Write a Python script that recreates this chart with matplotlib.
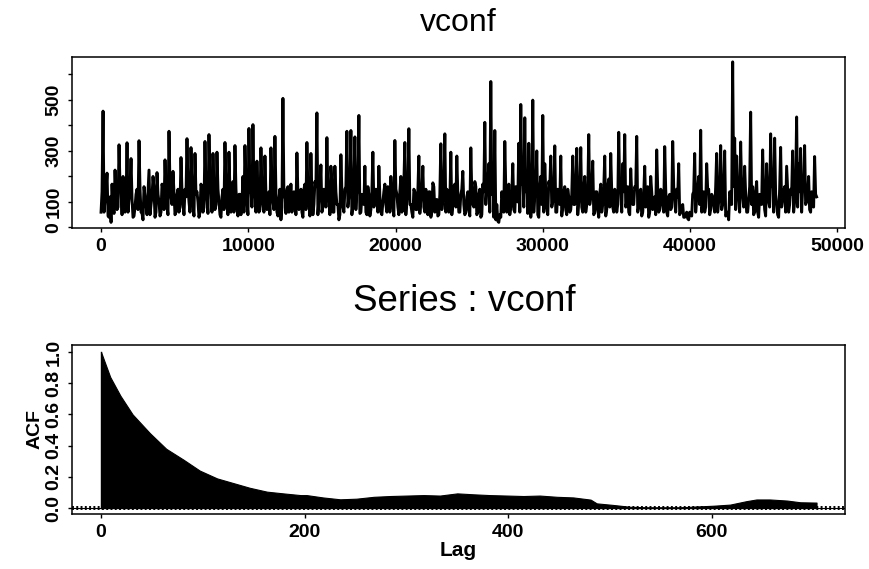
import numpy as np
import matplotlib.pyplot as plt

plt.rcParams['font.family'] = ['Liberation Sans', 'DejaVu Sans']

# vconf trace, one reading every ~136 iterations
vconf = [
    60, 456, 110, 213, 40, 20, 90, 225, 70, 324, 150, 200, 60, 332, 110, 270, 40, 80, 150, 340, 60,
    30, 120, 50, 225, 90, 200, 40, 215, 100, 60, 150, 265, 80, 377, 120, 220, 50, 130, 60, 274,
    90, 150, 348, 100, 313, 80, 290, 140, 40, 170, 60, 337, 110, 364, 150, 290, 70, 295, 100, 40,
    150, 333, 90, 295, 60, 180, 321, 80, 130, 50, 200, 321, 100, 388, 150, 403, 120, 260, 60, 312,
    90, 280, 70, 140, 312, 100, 357, 60, 110, 30, 506, 140, 150, 60, 170, 90, 120, 292, 70, 150,
    40, 170, 333, 90, 290, 50, 180, 449, 110, 245, 80, 120, 352, 100, 240, 60, 240, 90, 30, 285,
    80, 150, 377, 120, 380, 90, 355, 150, 439, 60, 110, 240, 50, 130, 70, 295, 100, 140, 240, 60,
    100, 170, 60, 120, 200, 80, 341, 130, 50, 200, 70, 333, 110, 387, 90, 40, 140, 70, 280, 110,
    240, 60, 100, 140, 40, 175, 60, 110, 50, 328, 110, 367, 150, 60, 295, 90, 170, 280, 60, 130,
    220, 50, 120, 70, 312, 90, 180, 50, 130, 40, 170, 412, 150, 250, 572, 250, 380, 90, 20, 40,
    100, 337, 60, 170, 80, 250, 60, 140, 330, 482, 200, 430, 180, 330, 40, 499, 130, 300, 40, 200,
    439, 250, 80, 180, 280, 100, 320, 60, 130, 280, 80, 160, 50, 120, 70, 280, 90, 310, 100, 313,
    60, 200, 90, 364, 120, 260, 60, 140, 40, 170, 90, 280, 70, 190, 290, 80, 150, 60, 373, 140,
    250, 364, 100, 60, 230, 90, 160, 357, 80, 150, 60, 240, 90, 40, 200, 70, 120, 304, 60, 150,
    90, 317, 60, 120, 70, 337, 110, 150, 250, 60, 90, 40, 60, 30, 50, 130, 290, 110, 200, 381,
    90, 60, 250, 150, 70, 120, 60, 290, 100, 321, 90, 300, 50, 30, 120, 649, 350, 280, 110, 335,
    120, 240, 60, 110, 452, 160, 60, 180, 40, 120, 304, 70, 250, 100, 367, 200, 350, 90, 40, 314,
    110, 160, 240, 60, 150, 300, 100, 433, 250, 310, 150, 321, 100, 200, 60, 90, 278, 120,
]
# readings taken halfway between the ones above
vconf_mid = [
    140, 60, 150, 45, 120, 170, 55, 130, 80, 160, 50, 140, 90, 60, 150, 110, 45, 130, 70, 150,
    55, 160, 90, 140, 50, 120, 150, 60, 130, 45, 170, 70, 140, 50, 160, 90, 130, 60, 150, 80,
    140, 50, 120, 160, 60, 150, 45, 130, 100, 60, 150, 80, 140, 55, 170, 60, 130, 90, 150, 50,
    120, 70, 160, 50, 140, 90, 60, 150, 45, 130, 100, 60, 170, 50, 140, 80, 150, 60, 130, 70,
    150, 60, 130, 90, 50, 160, 70, 140, 45, 150, 80, 120, 55, 160, 90, 60, 140, 50, 130, 100,
    60, 150, 70, 140, 45, 130, 90, 160, 50, 140, 60, 150, 80, 130, 50, 170, 60, 140, 90, 50,
    140, 60, 160, 80, 130, 50, 150, 70, 140, 55, 130, 90, 60, 160, 45, 140, 80, 150, 60, 120,
    50, 140, 90, 160, 60, 130, 45, 150, 80, 140, 60, 170, 50, 130, 90, 60, 150, 70, 140, 55,
    130, 80, 150, 50, 140, 60, 160, 90, 45, 130, 70, 150, 60, 140, 100, 50, 160, 80, 130, 60,
    150, 90, 60, 140, 45, 130, 80, 160, 60, 150, 50, 140, 90, 170, 60, 130, 40, 30, 25, 50,
    140, 60, 150, 90, 50, 130, 70, 160, 100, 60, 170, 80, 140, 55, 150, 90, 60, 130, 50, 150,
    90, 60, 140, 50, 160, 80, 130, 60, 150, 90, 45, 140, 70, 150, 60, 130, 90, 160, 50, 140,
    80, 150, 60, 130, 90, 160, 50, 140, 70, 130, 60, 150, 45, 160, 80, 140, 60, 130, 90, 150,
    60, 140, 80, 160, 50, 130, 90, 150, 60, 140, 45, 130, 80, 160, 60, 140, 90, 50, 150, 70,
    140, 60, 150, 45, 130, 80, 160, 60, 120, 50, 70, 40, 50, 35, 60, 45, 140, 60, 150, 90,
    60, 140, 80, 150, 50, 130, 90, 160, 60, 140, 70, 150, 45, 60, 140, 90, 160, 70, 140, 60,
    150, 80, 130, 60, 160, 90, 50, 140, 60, 130, 90, 150, 45, 140, 80, 160, 60, 130, 50, 150,
    80, 140, 60, 150, 90, 130, 60, 160, 80, 140, 60, 150, 90, 130, 70, 140, 80, 130, 60, 150,
]
last_iter = 48600

# autocorrelation of vconf at selected lags
acf_lag = [0, 9, 19, 31, 48, 64, 81, 97, 114, 130, 146, 163, 179, 196, 202, 218, 235, 251,
           268, 284, 317, 333, 350, 366, 382, 399, 415, 431, 448, 464, 481, 487, 503, 520,
           536, 569, 585, 602, 618, 634, 644, 657, 674, 687, 703]
acf_val = [1.0, 0.84, 0.72, 0.60, 0.48, 0.38, 0.31, 0.24, 0.19, 0.16, 0.13, 0.105, 0.094,
           0.083, 0.083, 0.068, 0.056, 0.06, 0.072, 0.077, 0.083, 0.08, 0.094, 0.088, 0.083,
           0.08, 0.077, 0.08, 0.072, 0.068, 0.054, 0.03, 0.02, 0.008, 0.005, 0.005, 0.01,
           0.015, 0.022, 0.044, 0.055, 0.055, 0.048, 0.037, 0.035]
n_obs = 48500
conf = 2 / np.sqrt(n_obs)

# merge the two sets of readings into one trace
n = len(vconf)
trace = np.empty(2 * n - 1)
trace[0::2] = vconf
trace[1::2] = vconf_mid[:n - 1]
it = np.linspace(0, last_iter, len(trace))

fig = plt.figure(figsize=(8.7, 5.69), dpi=100)
ax1 = fig.add_axes([0.0828, 0.5993, 0.8885, 0.3005])
ax2 = fig.add_axes([0.0828, 0.0967, 0.8885, 0.2970])

# --- trace ---
ax1.plot(it, trace, color='black', lw=2.1, solid_joinstyle='round')
ax1.set_xlim(-1970, 50530)
ax1.set_ylim(-2, 668)
ax1.set_xticks([0, 10000, 20000, 30000, 40000, 50000])
ax1.set_yticks([0, 100, 200, 300, 400, 500, 600])
ax1.set_yticklabels(['0', '100', '', '300', '', '500', ''])

# --- ACF ---
ax2.fill_between(acf_lag, 0, acf_val, color='black', lw=0.8)
ax2.plot([0, 0], [0, 1.0], color='black', lw=1)
ax2.axhline(0, color='black', lw=0.8)
for b in (conf, -conf):
    ax2.axhline(b, color='black', lw=1.4, ls=(0, (1, 1.2)))
ax2.set_xlim(-28.5, 731)
ax2.set_ylim(-0.038, 1.045)
ax2.set_xticks([0, 200, 400, 600])
ax2.set_yticks([0.0, 0.2, 0.4, 0.6, 0.8, 1.0])
ax2.set_yticklabels(['0.0', '0.2', '0.4', '0.6', '0.8', '1.0'])
ax2.set_xlabel('Lag', fontsize=15, fontweight='bold', labelpad=0)
ax2.set_ylabel('ACF', fontsize=14, fontweight='bold', labelpad=1)

for ax in (ax1, ax2):
    ax.tick_params(direction='out', length=3, width=1, labelsize=14, pad=4)
    for lab in ax.get_xticklabels() + ax.get_yticklabels():
        lab.set_fontweight('bold')
    for lab in ax.get_yticklabels():
        lab.set_rotation(90)
        lab.set_va('center')
    for s in ax.spines.values():
        s.set_linewidth(1.1)

fig.text(0.527, 0.959, 'vconf', ha='center', va='center', fontsize=23)
fig.text(0.534, 0.470, 'Series : vconf', ha='center', va='center', fontsize=26.5)

fig.savefig('out.png', dpi=100)
